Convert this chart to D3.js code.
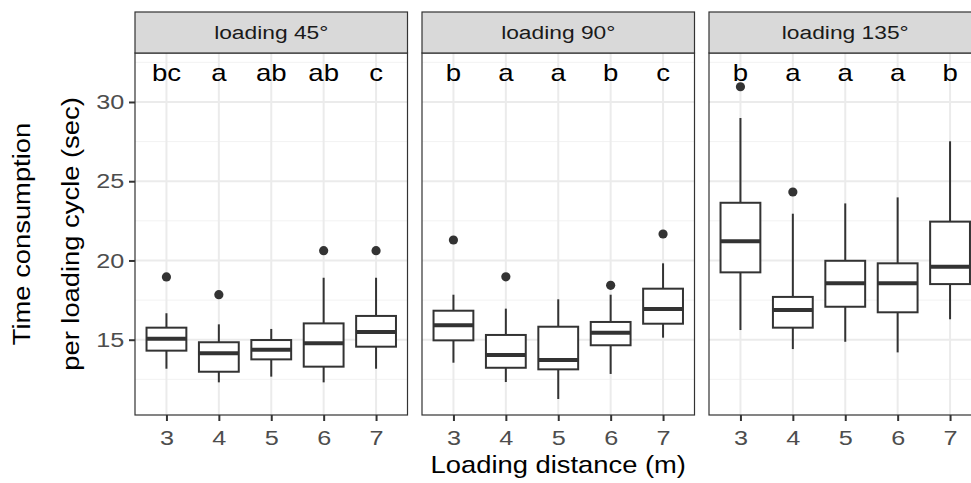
<!DOCTYPE html>
<html lang="en">
<head>
<meta charset="utf-8">
<title>Loading time boxplots</title>
<script src="https://d3js.org/d3.v7.js"></script>
<style>
  body { margin: 0; background: #fff; }
  text { font-family: "Liberation Sans", Arial, sans-serif; }
</style>
</head>
<body>
<div id="chart"></div>
<script>
// facet labels, categories and significance letters
const angles = ["loading 45°", "loading 90°", "loading 135°"];
const distances = ["3", "4", "5", "6", "7"];
const letters = [
  ["bc", "a", "ab", "ab", "c"],
  ["b", "a", "a", "b", "c"],
  ["b", "a", "a", "a", "b"]
];

// box statistics, one row per panel
const lowWhisker = [
  [13.17, 12.31, 12.67, 12.31, 13.17],
  [13.55, 12.33, 11.26, 12.84, 15.13],
  [15.61, 14.41, 14.87, 14.20, 16.29]
];
const q1 = [
  [14.31, 12.98, 13.76, 13.30, 14.56],
  [14.96, 13.23, 13.13, 14.65, 16.01],
  [19.25, 15.76, 17.08, 16.73, 18.51]
];
const median = [
  [15.06, 14.14, 14.37, 14.77, 15.49],
  [15.91, 14.03, 13.72, 15.44, 16.94],
  [21.21, 16.87, 18.56, 18.56, 19.61]
];
const q3 = [
  [15.76, 14.84, 14.98, 16.03, 16.50],
  [16.83, 15.30, 15.82, 16.12, 18.22],
  [23.64, 17.70, 19.98, 19.82, 22.45]
];
const highWhisker = [
  [16.67, 15.97, 15.68, 18.91, 18.91],
  [17.84, 16.96, 17.55, 17.84, 19.82],
  [28.99, 22.95, 23.60, 23.98, 27.52]
];
const outliers = [
  [[18.96], [17.84], [], [20.62], [20.62]],
  [[21.29], [18.97], [], [18.43], [21.67]],
  [[30.96], [24.32], [], [], []]
];

const yTicks = [15, 20, 25, 30];
const yMinor = [12.5, 17.5, 22.5, 27.5, 32.5];

// layout
const W = 971, H = 483;
const panelLeft = 135, panelW = 272.5, panelGap = 14.5;
const stripTop = 12, panelTop = 53, panelBottom = 415;
const wide = 1.2;   // the reference text is rendered a bit wide

const svg = d3.select("#chart").append("svg")
  .attr("width", W)
  .attr("height", H);

const y = d3.scaleLinear()
  .domain([10.25, 33.09])
  .range([panelBottom, panelTop]);

const x = d3.scalePoint()
  .domain(distances)
  .range([0, panelW])
  .padding(0.6);

const boxW = x.step() * 0.76;

angles.forEach(function (angle, p) {
  const g = svg.append("g")
    .attr("transform", `translate(${panelLeft + p * (panelW + panelGap)}, 0)`);

  // panel background + grid
  g.append("rect")
    .attr("x", 0).attr("y", panelTop)
    .attr("width", panelW).attr("height", panelBottom - panelTop)
    .attr("fill", "#fff");

  g.selectAll(".minor").data(yMinor).enter().append("line")
    .attr("x1", 0).attr("x2", panelW)
    .attr("y1", d => y(d)).attr("y2", d => y(d))
    .attr("stroke", "#f2f2f2").attr("stroke-width", 1);

  g.selectAll(".major").data(yTicks).enter().append("line")
    .attr("x1", 0).attr("x2", panelW)
    .attr("y1", d => y(d)).attr("y2", d => y(d))
    .attr("stroke", "#ebebeb").attr("stroke-width", 2);

  g.selectAll(".vgrid").data(distances).enter().append("line")
    .attr("x1", d => x(d)).attr("x2", d => x(d))
    .attr("y1", panelTop).attr("y2", panelBottom)
    .attr("stroke", "#ebebeb").attr("stroke-width", 2);

  // boxes
  const boxes = g.selectAll(".box").data(distances).enter().append("g")
    .attr("transform", d => `translate(${x(d)}, 0)`);

  boxes.append("line")
    .attr("y1", (d, i) => y(lowWhisker[p][i]))
    .attr("y2", (d, i) => y(q1[p][i]))
    .attr("stroke", "#333").attr("stroke-width", 2);

  boxes.append("line")
    .attr("y1", (d, i) => y(q3[p][i]))
    .attr("y2", (d, i) => y(highWhisker[p][i]))
    .attr("stroke", "#333").attr("stroke-width", 2);

  boxes.append("rect")
    .attr("x", -boxW / 2)
    .attr("width", boxW)
    .attr("y", (d, i) => y(q3[p][i]))
    .attr("height", (d, i) => y(q1[p][i]) - y(q3[p][i]))
    .attr("fill", "#fff")
    .attr("stroke", "#333").attr("stroke-width", 2);

  boxes.append("line")
    .attr("x1", -boxW / 2).attr("x2", boxW / 2)
    .attr("y1", (d, i) => y(median[p][i]))
    .attr("y2", (d, i) => y(median[p][i]))
    .attr("stroke", "#333").attr("stroke-width", 4);

  boxes.each(function (d, i) {
    d3.select(this).selectAll("circle").data(outliers[p][i]).enter().append("circle")
      .attr("cx", 0)
      .attr("cy", v => y(v))
      .attr("r", 4.6)
      .attr("fill", "#333");
  });

  // panel border
  g.append("rect")
    .attr("x", 0).attr("y", panelTop)
    .attr("width", panelW).attr("height", panelBottom - panelTop)
    .attr("fill", "none")
    .attr("stroke", "#333").attr("stroke-width", 1.2);

  // strip
  g.append("rect")
    .attr("x", 0).attr("y", stripTop)
    .attr("width", panelW).attr("height", panelTop - stripTop)
    .attr("fill", "#d9d9d9")
    .attr("stroke", "#333").attr("stroke-width", 1.2);

  g.append("text")
    .attr("transform", `translate(${panelW / 2}, 38.5) scale(${wide}, 1)`)
    .attr("text-anchor", "middle")
    .attr("font-size", 19)
    .attr("fill", "#1a1a1a")
    .text(angle);

  // significance letters
  g.selectAll(".letter").data(distances).enter().append("text")
    .attr("transform", d => `translate(${x(d)}, 81) scale(${wide}, 1)`)
    .attr("text-anchor", "middle")
    .attr("font-size", 23)
    .attr("fill", "#000")
    .text((d, i) => letters[p][i]);

  // x axis
  const xa = g.append("g")
    .attr("transform", `translate(0, ${panelBottom})`)
    .call(d3.axisBottom(x).tickSize(6).tickPadding(9));
  xa.select(".domain").remove();
  xa.selectAll("line").attr("stroke", "#333").attr("stroke-width", 2);
  xa.selectAll("text")
    .attr("font-size", 21)
    .attr("fill", "#4d4d4d")
    .attr("font-family", "Liberation Sans, Arial, sans-serif")
    .attr("transform", `scale(${wide}, 1)`);

  // y axis on first panel only
  if (p === 0) {
    const ya = g.append("g")
      .call(d3.axisLeft(y).tickValues(yTicks).tickSize(6).tickPadding(3));
    ya.select(".domain").remove();
    ya.selectAll("line").attr("stroke", "#333").attr("stroke-width", 2);
    ya.selectAll("text")
      .attr("font-size", 21)
      .attr("fill", "#4d4d4d")
      .attr("font-family", "Liberation Sans, Arial, sans-serif")
      .attr("transform", `scale(${wide}, 1)`);
  }
});

// axis titles
const midY = (panelTop + panelBottom) / 2;
svg.append("text")
  .attr("transform", `translate(29.5, ${midY}) rotate(-90) scale(1.14, 1)`)
  .attr("text-anchor", "middle")
  .attr("font-size", 24)
  .attr("fill", "#000")
  .text("Time consumption");

svg.append("text")
  .attr("transform", `translate(79, ${midY}) rotate(-90) scale(1.14, 1)`)
  .attr("text-anchor", "middle")
  .attr("font-size", 24)
  .attr("fill", "#000")
  .text("per loading cycle (sec)");

svg.append("text")
  .attr("transform", `translate(${panelLeft + panelW * 1.5 + panelGap}, 473) scale(1.14, 1)`)
  .attr("text-anchor", "middle")
  .attr("font-size", 24)
  .attr("fill", "#000")
  .text("Loading distance (m)");
</script>
</body>
</html>
